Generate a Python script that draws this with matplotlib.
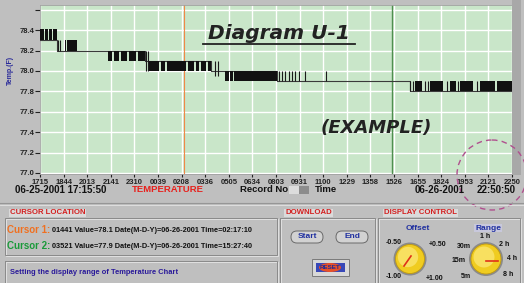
import numpy as np
import matplotlib
matplotlib.use('Agg')
from matplotlib import pyplot
from matplotlib.patches import Rectangle, Circle, FancyBboxPatch, Ellipse

pyplot.rcParams['font.family'] = ['Liberation Sans', 'DejaVu Sans']
pyplot.rcParams['font.weight'] = 'bold'

# temperature trace (x = record number), dense toggling shown as blocks
blk_start = [0, 50, 90, 130, 250, 270, 680, 740, 810, 890, 980,
             1090, 1210, 1270, 1480, 1560, 1610, 1680, 1850, 1900, 1940,
             3750, 3900, 4100, 4200, 4400, 4570]
blk_end = [40, 80, 120, 170, 260, 370, 720, 790, 870, 960, 1050,
           1190, 1250, 1460, 1540, 1590, 1660, 1710, 1890, 1930, 2370,
           3820, 4030, 4160, 4330, 4550, 4720]
blk_lo = [78.3] * 4 + [78.2] * 2 + [78.1] * 5 + [78.0] * 7 + [77.9] * 3 + [77.8] * 6
blk_hi = [78.41] * 4 + [78.3] * 2 + [78.2] * 5 + [78.1] * 7 + [78.0] * 3 + [77.9] * 6

# single toggles
tick_x = [180, 200, 1060, 1080, 1750, 1780, 2390, 2420, 2450, 2490, 2520,
          2550, 2590, 2650, 2860, 3700, 3730, 3850, 3880, 4070, 4180, 4370]
tick_lo = [78.2, 78.2, 78.0, 78.0, 77.95, 77.95] + [77.9] * 9 + [77.8] * 7
tick_hi = [78.3, 78.3, 78.2, 78.2, 78.1, 78.1] + [78.0] * 9 + [77.9] * 7

# baseline level between toggling phases
step_x = [0, 170, 370, 1050, 1710, 2370, 3700, 4720]
step_y = [78.3, 78.2, 78.2, 78.1, 78.0, 77.9, 77.8, 77.8]

cursor1, cursor2 = 1440, 3520
y_ticks = [77.0, 77.2, 77.4, 77.6, 77.8, 78.0, 78.2, 78.4, 78.6]
y_labels = ['77.0', '77.2', '77.4', '77.6', '77.8', '78.0', '78.2', '78.4', '']
x_labels = ['1715', '1844', '2013', '2141', '2310', '0039', '0208', '0336',
            '0505', '0634', '0803', '0931', '1100', '1229', '1358', '1526',
            '1655', '1824', '1953', '2121', '2250']

W, H = 524, 283
fig = pyplot.figure(figsize=(W / 100, H / 100), dpi=100)
fig.patch.set_facecolor('#bfbfbf')

ax = fig.add_axes([40 / W, 1 - 174 / H, 472 / W, 169 / H])
ax.set_facecolor('#c9e6c9')
ax.plot(step_x, step_y, drawstyle='steps-post', color='#3a3a3a', lw=0.8, zorder=3)
ax.bar(blk_start, np.subtract(blk_hi, blk_lo), width=np.subtract(blk_end, blk_start),
       bottom=blk_lo, align='edge', color='#111111', linewidth=0, zorder=4)
ax.vlines(tick_x, tick_lo, tick_hi, color='#1a1a1a', lw=0.8, zorder=4)
ax.axvline(cursor1, color='#f08848', lw=0.8, zorder=2)
ax.axvline(cursor2, color='#4f8f4f', lw=1.0, zorder=2)
ax.set_xlim(0, 4720)
ax.set_ylim(76.99, 78.647)
ax.set_xticks(np.linspace(0, 4720, 21))
ax.set_xticklabels(x_labels)
ax.set_yticks(y_ticks)
ax.set_yticklabels(y_labels)
ax.grid(color='white', lw=1.0, zorder=1)
ax.set_axisbelow(True)
ax.tick_params(axis='x', labelsize=5.5, length=2, pad=1.5, colors='#222222')
ax.tick_params(axis='y', labelsize=5.5, length=3.5, pad=0.5, colors='#222222')
for s in ax.spines.values():
  s.set_color('#a0a0a0')
  s.set_linewidth(0.6)

ov = fig.add_axes([0, 0, 1, 1])
ov.set_xlim(0, W)
ov.set_ylim(H, 0)
ov.axis('off')
ov.patch.set_alpha(0)
ov.set_zorder(5)

ov.add_patch(Rectangle((512, 0), 9, 175, fc='#a8a8a8', ec='none'))
ov.text(10, 70, 'Temp.(F)', rotation=90, ha='center', va='center',
        fontsize=5, color='#2a2a9a')
ov.text(279, 39, 'Diagram U-1', ha='center', va='baseline', fontsize=14.5,
        family='DejaVu Sans', style='italic', weight='bold', color='#222222')
ov.plot([203, 355], [44, 44], color='#222222', lw=1.3)
ov.text(376, 133, '(EXAMPLE)', ha='center', va='baseline', fontsize=13,
        family='DejaVu Sans', style='italic', weight='bold', color='#222222')
ov.add_patch(Circle((492, 175), 35, fill=False, ec='#b0508e', lw=1.0,
                    ls=(0, (4, 3))))

# status row under chart
ov.text(61, 190, '06-25-2001 17:15:50', ha='center', va='center', fontsize=7, color='#111111')
ov.text(168, 190, 'TEMPERATURE', ha='center', va='center', fontsize=6.8, color='#e8201c')
ov.text(264, 190, 'Record No', ha='center', va='center', fontsize=6.8, color='#111111')
ov.add_patch(Rectangle((289, 186), 10, 8, fc='#dcdcdc', ec='none'))
ov.add_patch(Rectangle((299, 186), 10, 8, fc='#8c8c8c', ec='none'))
ov.text(326, 190, 'Time', ha='center', va='center', fontsize=6.8, color='#111111')
ov.text(440, 190, '06-26-2001', ha='center', va='center', fontsize=7, color='#111111')
ov.text(496, 190, '22:50:50', ha='center', va='center', fontsize=7, color='#111111')
ov.plot([0, W], [203, 203], color='#969696', lw=0.8)
ov.plot([0, W], [204.5, 204.5], color='#e4e4e4', lw=0.6)

def group(x0, y0, x1, y1):
  ov.add_patch(Rectangle((x0 + 1, y0 + 1), x1 - x0, y1 - y0, fill=False, ec='#e6e6e6', lw=0.6))
  ov.add_patch(Rectangle((x0, y0), x1 - x0, y1 - y0, fill=False, ec='#8a8a8a', lw=0.7))

def glabel(x, y, s):
  ov.text(x, y, s, ha='left', va='center', fontsize=5.6, color='#d42020',
          bbox=dict(fc='#dadada', ec='none', pad=0.6))

group(5, 218, 277, 255)
group(5, 261, 277, 290)
group(280, 218, 375, 290)
group(378, 218, 520, 290)
glabel(10, 213, 'CURSOR LOCATION')
glabel(285, 213, 'DOWNLOAD')
glabel(384, 213, 'DISPLAY CONTROL')

ov.text(7, 230, 'Cursor 1:', ha='left', va='center', fontsize=7, color='#f07020')
ov.text(52, 230, '01441 Value=78.1 Date(M-D-Y)=06-26-2001 Time=02:17:10',
        ha='left', va='center', fontsize=5.3, color='#111111')
ov.text(7, 246, 'Cursor 2:', ha='left', va='center', fontsize=7, color='#1a9a3a')
ov.text(52, 246, '03521 Value=77.9 Date(M-D-Y)=06-26-2001 Time=15:27:40',
        ha='left', va='center', fontsize=5.3, color='#111111')
ov.text(10, 272, 'Setting the display range of Temperature Chart',
        ha='left', va='center', fontsize=5.4, color='#2a1a9a')

# download buttons
for cx, s in [(307, 'Start'), (352, 'End')]:
  ov.add_patch(FancyBboxPatch((cx - 16, 231), 32, 12, boxstyle='round,pad=0,rounding_size=6',
                              fc='#d2d2d2', ec='#6a6a6a', lw=0.7))
  ov.text(cx, 237, s, ha='center', va='center', fontsize=6, color='#2030a0')
ov.add_patch(Rectangle((312, 259), 37, 17, fc='#d8d8d8', ec='#7a7a7a', lw=0.7))
ov.add_patch(Rectangle((316, 263), 29, 9, fc='#3848b8', ec='none'))
ov.add_patch(Ellipse((330, 267.5), 22, 9, fc='#e85028', ec='none'))
ov.text(330, 267.5, 'RESET', ha='center', va='center', fontsize=4.5, color='#1a2a9a')

# knobs
def knob(cx, cy, r):
  ov.add_patch(Circle((cx, cy), r + 2, fc='#8a8a8a', ec='none'))
  ov.add_patch(Circle((cx, cy), r, fc='#f0cc20', ec='#c09a10', lw=0.6))
  ov.add_patch(Circle((cx - 2, cy - 2), r * 0.7, fc='#f8e060', ec='none'))

knob(410, 259, 14.5)
ov.plot([404, 411], [266, 256], color='#e03018', lw=1.2)
ov.text(418, 228, 'Offset', ha='center', va='center', fontsize=6, color='#2030a0')
for x, y, s in [(394, 243, '-0.50'), (438, 245, '+0.50'), (394, 277, '-1.00'), (435, 278, '+1.00')]:
  ov.text(x, y, s, ha='center', va='center', fontsize=5, color='#111111')

knob(486, 259, 15)
ov.plot([486, 498], [261, 261], color='#e03018', lw=1.2)
ov.text(488, 228, 'Range', ha='center', va='center', fontsize=6, color='#2030a0',
        bbox=dict(fc='#c8c8dc', ec='none', pad=0.5))
for x, y, s in [(485, 237, '1 h'), (504, 244, '2 h'), (512, 258, '4 h'), (508, 275, '8 h'),
                (464, 246, '30m'), (459, 261, '15m'), (466, 277, '5m')]:
  ov.text(x, y, s, ha='center', va='center', fontsize=5, color='#111111')

fig.savefig('out.png', dpi=100, facecolor=fig.get_facecolor())
